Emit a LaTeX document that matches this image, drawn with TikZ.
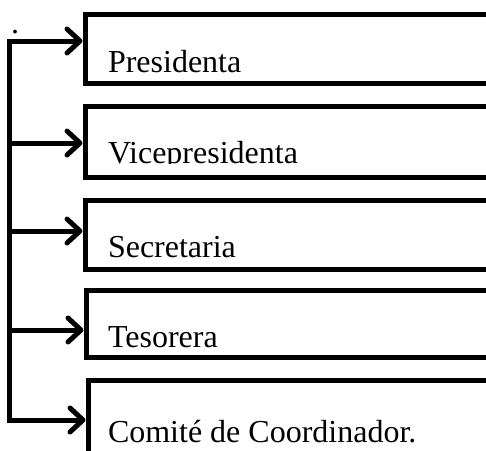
\documentclass[tikz,border=0pt]{standalone}
\usepackage{fontspec}
\setmainfont{Liberation Serif}
\usetikzlibrary{arrows.meta}
\begin{document}
\begin{tikzpicture}[
  x=1pt, y=-1pt,
  every node/.style={font=\fontsize{32}{38}\selectfont, inner sep=0pt, outer sep=0pt},
  cargo/.style={draw, line width=5pt, rectangle, minimum width=430pt, minimum height=69pt, anchor=north west},
  etiqueta/.style={anchor=base west},
  enlace/.style={line width=5pt},
  flecha/.style={enlace, -{Straight Barb[length=13pt, width=24pt, line cap=round, line join=round]}, shorten >=2.5pt}
]
\clip (0,0) rectangle (486,450);

\node[cargo] (pres) at (85,14) {};
\node[cargo, minimum height=71pt] (vice) at (85,106) {};
\node[cargo] (secr) at (85,200) {};
\node[cargo, minimum height=67pt] (teso) at (86,290) {};
\node[cargo, minimum height=100pt] (comi) at (88,380) {};

\node[etiqueta] (tpres) at (108,72) {Presidenta};
\begin{scope}
  \clip (90,100) rectangle (480,163.5);
  \node[etiqueta] (tvice) at (108,163) {Vicepresidenta};
\end{scope}
\node[etiqueta] (tsecr) at (108,257) {Secretaria};
\node[etiqueta] (tteso) at (108,347) {Tesorera};
\node[etiqueta] (tcomi) at (108,442) {Comité de Coordinador.};
\node[etiqueta] (punto) at (11,33) {.};

\coordinate (r1) at (9.5,41);
\coordinate (r2) at (9.5,143);
\coordinate (r3) at (9.5,231);
\coordinate (r4) at (9.5,330);
\coordinate (r5) at (9.5,420);

\draw[enlace, line cap=rect] (r1) -- (r5);
\draw[flecha] (r1) -- (r1 -| pres.west);
\draw[flecha] (r2) -- (r2 -| vice.west);
\draw[flecha] (r3) -- (r3 -| secr.west);
\draw[flecha] (r4) -- (r4 -| teso.west);
\draw[flecha] (r5) -- (r5 -| comi.west);
\end{tikzpicture}
\end{document}
